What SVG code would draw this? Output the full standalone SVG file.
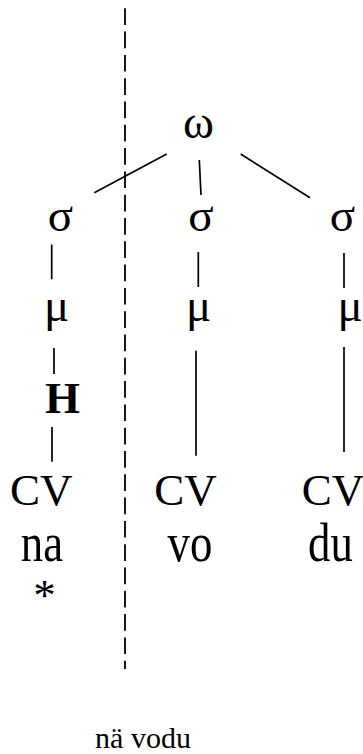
<svg xmlns="http://www.w3.org/2000/svg" width="363" height="754" viewBox="0 0 363 754">
<style>
  text { font-family: "Liberation Serif", "Times New Roman", serif; fill: #000; text-anchor: middle; }
  .t { font-size: 45px; }
  .g { font-size: 47px; }
  .w { font-size: 54px; }
  .b { font-size: 45px; font-weight: bold; }
  .s { font-size: 30px; }
  .ln { stroke: #000; stroke-width: 1.7; fill: none; }
  .dash { stroke: #000; stroke-width: 1.8; stroke-dasharray: 16.7 6.6; fill: none; }
</style>
<rect width="363" height="754" fill="#fff"/>
<g id="connectors">
  <line class="ln" x1="166.7" y1="154" x2="94.3" y2="192.7"/>
  <line class="ln" x1="199.3" y1="160" x2="201" y2="195"/>
  <line class="ln" x1="240.7" y1="154" x2="310" y2="197.7"/>
  <line class="ln" x1="51.7" y1="244.5" x2="51.7" y2="279.3"/>
  <line class="ln" x1="198.3" y1="252" x2="198.3" y2="287"/>
  <line class="ln" x1="344" y1="253" x2="344" y2="288"/>
  <line class="ln" x1="54" y1="348" x2="54" y2="374"/>
  <line class="ln" x1="196" y1="350.7" x2="196" y2="455.7"/>
  <line class="ln" x1="344" y1="347" x2="344" y2="452"/>
  <line class="ln" x1="52" y1="427" x2="52" y2="461.7"/>
</g>
<g id="boundary">
  <line class="dash" x1="125" y1="8.3" x2="125" y2="669"/>
</g>
<g id="omega"><text class="g" x="198.5" y="138">ω</text></g>
<g id="sigma1"><text class="g" x="60.5" y="231">σ</text></g>
<g id="sigma2"><text class="g" x="201" y="231">σ</text></g>
<g id="sigma3"><text class="g" x="342.5" y="231">σ</text></g>
<g id="mu1"><text class="g" x="56.5" y="321">μ</text></g>
<g id="mu2"><text class="g" x="198.5" y="321">μ</text></g>
<g id="mu3"><text class="g" x="350" y="321">μ</text></g>
<g id="H"><text class="b" x="62.5" y="413">H</text></g>
<g id="cv1"><text class="t" x="41.3" y="505">CV</text></g>
<g id="cv2"><text class="t" x="185.5" y="505">CV</text></g>
<g id="cv3"><text class="t" x="333" y="505">CV</text></g>
<g id="na"><text class="w" transform="translate(42 561) scale(0.83 1)">na</text></g>
<g id="vo"><text class="w" transform="translate(190 561) scale(0.83 1)">vo</text></g>
<g id="du"><text class="w" transform="translate(330.5 561) scale(0.83 1)">du</text></g>
<g id="star"><text class="t" x="44.5" y="610">*</text></g>
<g id="gloss"><text class="s" x="143" y="748">nä vodu</text></g>
</svg>
